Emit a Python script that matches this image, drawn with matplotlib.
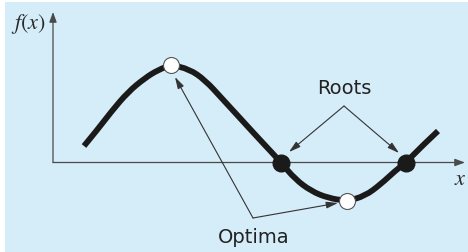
import matplotlib.pyplot as plt
from matplotlib.patches import Rectangle, PathPatch
from matplotlib.path import Path

plt.rcParams['mathtext.fontset'] = 'stix'

# curve f(x) (arbitrary units, x axis at f=0)
curve_x = [3.1, 4.5, 5.8, 7.5, 9.2, 10.5, 11.8, 13.6, 15.2, 16.9, 18.6, 20.2,
           21.9, 22.8, 24.2, 25.8, 27.5, 29.4, 31.2, 32.8, 34.2, 35.3, 36.8, 38.5]
curve_y = [1.65, 3.35, 5.05, 7.05, 8.45, 9.25, 9.75, 9.35, 8.25, 6.40, 4.55, 2.80,
           0.98, 0.0, -1.65, -2.85, -3.55, -3.85, -3.35, -2.15, -0.85, 0.0, 1.55, 3.15]

roots_x = [22.8, 35.3]
roots_y = [0.0, 0.0]
optima_x = [11.8, 29.4]
optima_y = [9.75, -3.85]

# annotation text, label anchor and where the arrows end
roots_label = "Roots"
roots_text = (29.1, 7.45)
roots_apex = (29.1, 5.65)
roots_tips = [(23.6, 1.05), (34.6, 0.95)]

optima_label = "Optima"
optima_text = (20.1, -7.45)
optima_apex = (20.0, -5.55)
optima_tips = [(12.2, 8.55), (28.5, -4.05)]

x_end = 41.2
y_end = 15.05

fig = plt.figure(figsize=(4.68, 2.53), dpi=100)
fig.patch.set_facecolor("white")
fig.patches.append(Rectangle((5 / 468, 0), 1, 250 / 253, transform=fig.transFigure,
                             facecolor="#d5ecf9", edgecolor="none", zorder=-1))

ax = fig.add_axes([0, 0, 1, 1])
ax.set_xlim(-5.3, 41.5)
ax.set_ylim(-8.95, 16.35)
ax.axis("off")

axis_arrow = dict(arrowstyle="-|>,head_length=0.6,head_width=0.22", color="#4a4a4a",
                  lw=0.9, mutation_scale=10, shrinkA=0, shrinkB=0)
ax.annotate("", xy=(0, y_end), xytext=(0, 0), arrowprops=axis_arrow, zorder=2)
ax.annotate("", xy=(x_end, 0), xytext=(0, 0), arrowprops=axis_arrow, zorder=2)

ax.text(-2.5, 13.95, r"$f(x)$", fontsize=16, color="#2a2a2a", ha="center", va="center")
ax.text(40.7, -1.55, r"$x$", fontsize=16, color="#2a2a2a", ha="center", va="center")

# smooth line through the read points (quadratic spline via midpoints)
pts = list(zip(curve_x, curve_y))
verts = [pts[0]]
codes = [Path.MOVETO]
for i in range(1, len(pts) - 2):
    mid = ((pts[i][0] + pts[i + 1][0]) / 2, (pts[i][1] + pts[i + 1][1]) / 2)
    verts += [pts[i], mid]
    codes += [Path.CURVE3, Path.CURVE3]
verts += [pts[-2], pts[-1]]
codes += [Path.CURVE3, Path.CURVE3]
ax.add_patch(PathPatch(Path(verts, codes), facecolor="none", edgecolor="#1a1a1a",
                       lw=4.2, capstyle="butt", joinstyle="round", zorder=3))

ax.plot(roots_x, roots_y, "o", ms=12, color="#1a1a1a", zorder=4)
ax.plot(optima_x, optima_y, "o", ms=11.5, markerfacecolor="white",
        markeredgecolor="#555555", markeredgewidth=0.8, zorder=4)

pointer = dict(arrowstyle="-|>,head_length=0.7,head_width=0.2", color="#333333",
               lw=0.8, mutation_scale=10, shrinkA=0, shrinkB=0)
for tip in roots_tips:
    ax.annotate("", xy=tip, xytext=roots_apex, arrowprops=pointer, zorder=5)
for tip in optima_tips:
    ax.annotate("", xy=tip, xytext=optima_apex, arrowprops=pointer, zorder=5)

ax.text(*roots_text, roots_label, fontsize=14, color="#222222", ha="center", va="center")
ax.text(*optima_text, optima_label, fontsize=14, color="#222222", ha="center", va="center")

fig.savefig("out.png", dpi=100, facecolor=fig.get_facecolor())
